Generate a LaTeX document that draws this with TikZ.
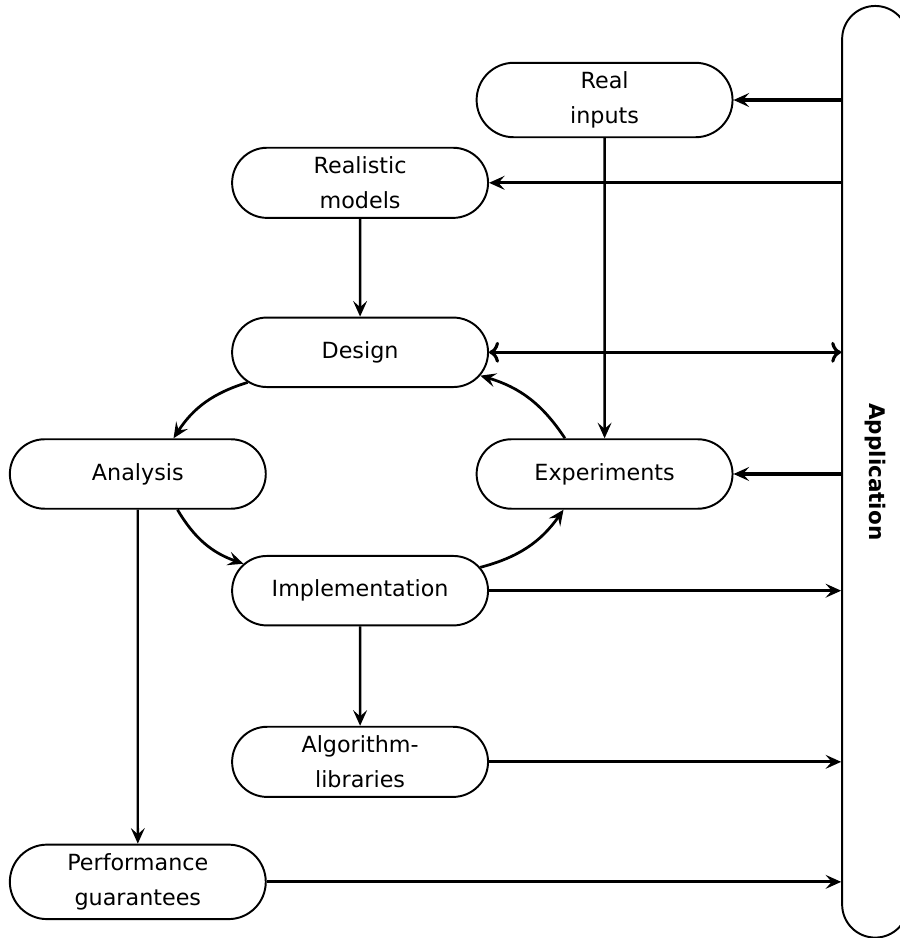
\documentclass[tikz,border=0pt]{standalone}
\usepackage{fontspec}
\setmainfont{DejaVu Sans}
\usetikzlibrary{shapes.misc}
\usetikzlibrary{positioning}
\usetikzlibrary{arrows.meta}

\begin{document}
\begin{tikzpicture}[
        stage/.style={draw, line width=1pt, rounded rectangle, align=center, minimum width=4.84cm, minimum height=1.25cm, inner ysep=4.6pt, font=\fontsize{11.4}{17.9}\selectfont},
        flow/.style={-{Stealth[length=2.8mm, width=2.5mm, inset=1.1mm]}, line width=1.2pt},
        wide/.style={-{Stealth[length=2.8mm, width=2.5mm, inset=1.1mm]}, line width=1.6pt},
        loop/.style={-{Stealth[length=2.8mm, width=2.5mm, inset=1.1mm]}, line width=1.4pt}
    ]
            \useasboundingbox (0,0) rectangle (16.18,16.88);
            \node[draw, line width=1pt, rounded rectangle, rotate=-90, minimum width=17cm, minimum height=1.19cm, font=\fontsize{11}{14}\selectfont\bfseries] (application) at (15.75,8.39) {Application};

            \node[stage] (real) at (10.88,15.08) {Real\\inputs};
            \node[stage] (models) at (6.48,13.59) {Realistic\\models};
            \node[stage] (design) at (6.48,10.54) {Design};
            \node[stage] (analysis) at (2.48,8.35) {Analysis};
            \node[stage] (experiments) at (10.88,8.35) {Experiments};
            \node[stage] (implementation) at (6.48,6.25) {Implementation};
            \node[stage] (libraries) at (6.48,3.17) {Algorithm-\\libraries};
            \node[stage] (guarantees) at (2.48,1.01) {Performance\\guarantees};

            % from and to the application
            \draw[wide] (real.east -| application.south) -- (real.east);
            \draw[wide] (models.east -| application.south) -- (models.east);
            \draw[wide, <->] (design.east) -- (design.east -| application.south);
            \draw[wide] (experiments.east -| application.south) -- (experiments.east);
            \draw[wide] (implementation.east) -- (implementation.east -| application.south);
            \draw[wide] (libraries.east) -- (libraries.east -| application.south);
            \draw[wide] (guarantees.east) -- (guarantees.east -| application.south);

            % straight down
            \draw[flow] (real) -- (experiments);
            \draw[flow] (models) -- (design);
            \draw[flow] (implementation) -- (libraries);
            \draw[flow] (analysis) -- (guarantees);

            % the cycle
            \draw[loop] (design.195) to[bend right=20] (analysis.45);
            \draw[loop] (analysis.318) to[bend right=20] (implementation.167);
            \draw[loop] (implementation.11) to[bend right=20] (experiments.221);
            \draw[loop] (experiments.138) to[bend right=20] (design.349);
        \end{tikzpicture}
\end{document}
